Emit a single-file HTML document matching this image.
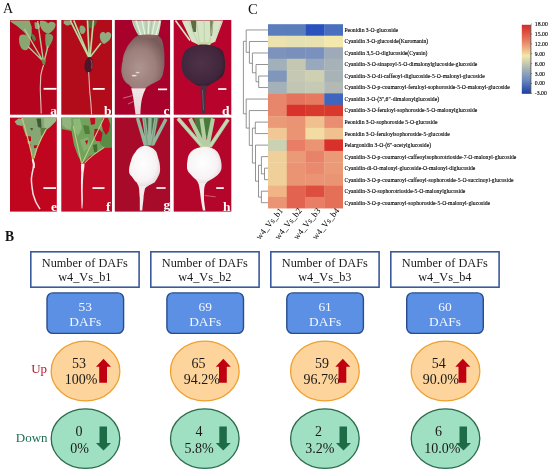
<!DOCTYPE html>
<html><head><meta charset="utf-8"><style>
*{margin:0;padding:0;box-sizing:border-box}
html,body{width:550px;height:472px;overflow:hidden;background:#fff}
body{position:relative;font-family:"Liberation Serif", serif;color:#111}
svg,.lbl{will-change:transform}
.lbl{position:absolute;font-size:13px;line-height:1}
</style></head><body>
<svg style="position:absolute;left:0;top:0" width="240" height="220" viewBox="0 0 240 220">
<defs>
<radialGradient id="gc" cx="0.42" cy="0.62" r="0.62"><stop offset="0" stop-color="#ae9490"/><stop offset="0.6" stop-color="#9c7e7a"/><stop offset="1" stop-color="#7a5c5c"/></radialGradient>
<radialGradient id="gd" cx="0.45" cy="0.45" r="0.6"><stop offset="0" stop-color="#4e3248"/><stop offset="0.8" stop-color="#40263c"/><stop offset="1" stop-color="#301828"/></radialGradient>
<radialGradient id="gw" cx="0.45" cy="0.45" r="0.6"><stop offset="0" stop-color="#ffffff"/><stop offset="0.7" stop-color="#f7f3f4"/><stop offset="1" stop-color="#e4d8dc"/></radialGradient>
<linearGradient id="gr" x1="0" y1="0" x2="0" y2="1"><stop offset="0" stop-color="#f0e6e8"/><stop offset="1" stop-color="#e8d6da"/></linearGradient>
</defs>
<!-- backgrounds -->
<rect x="10" y="20" width="46.8" height="94.7" fill="#b4041e"/>
<rect x="61.3" y="20" width="50.7" height="94.7" fill="#b20c1a"/>
<rect x="114.8" y="20" width="55.3" height="94.7" fill="#a8022c"/>
<rect x="173.7" y="20" width="57.6" height="94.7" fill="#b8042c"/>
<rect x="10" y="117.6" width="46.8" height="94" fill="#c0061e"/>
<rect x="61.3" y="117.6" width="50.7" height="94" fill="#c00a26"/>
<rect x="114.8" y="117.6" width="55.3" height="94" fill="#a80a2a"/>
<rect x="173.7" y="117.6" width="57.6" height="94" fill="#b4062a"/>

<!-- panel a -->
<g>
<path d="M10.5 20.5H29.5L31.7 27L31.7 35L30 40L24 32L17 26L10.5 21.8Z" fill="#8ba774"/>
<path d="M19.5 36C22 33.5 27 34 29.5 38C31 42 30 46 28 49C26 51 22.5 50.5 21 47.5C19 44.5 18.5 39.5 19.5 36Z" fill="#8aa670"/>
<path d="M31.7 33.4C34 34 35.8 36.5 36 39.5L34.5 41.7C32.5 40 31.3 37 31.7 33.4Z" fill="#5e7a48"/>
<path d="M34.4 22.4C37 21.5 40 23 40 26.5C39.5 29.5 36.5 30 35 28Z" fill="#90aa78"/>
<path d="M40 21C44 20.3 47 21.5 48 23.5C50 21 54 21 55.5 24C56 28 52 32 48 34C46 33 42 31 41 28C40 26 39.5 23 40 21Z" fill="#8ea874"/>
<path d="M45.5 34C49 33 53 34 53.2 37C53 41 50 45.5 47 49.5C45.5 46 44.8 40 45.5 34Z" fill="#7f9a66"/>
<path d="M24.5 29L43.5 62M37.7 21L43.5 62M28 46.5L42.5 60.5M48 46L44 62" stroke="#b4c892" stroke-width="1.4" fill="none"/>
<path d="M41.5 59L46 60L45 65L42.5 64Z" fill="#6a9048"/>
<path d="M43.6 64.8C42 70 40.5 74 40.7 77.8C40.5 83 40.2 87 40.3 89.7C40.5 97 41 105 41.2 113.5" stroke="#e6c0b8" stroke-width="1.1" fill="none"/>
</g>
<!-- panel b -->
<g>
<path d="M63.7 20.5H72L71 24.5L67 25.7L63.7 23.5Z" fill="#90aa80"/>
<path d="M80 26C82 24.5 85 26 85.7 29.5C85.5 32.5 83.5 34.6 81.5 34C79.5 32.5 79 28.5 80 26Z" fill="#8aa878"/>
<path d="M86.3 20.5H97C97 23 95 27 92 28.7L88 27Z" fill="#4e6e3c"/>
<path d="M99.9 35C100.5 32 103.5 31 105.5 33.5C107 31 110.5 31.5 111.2 34.5C111.5 39 108 42 104 44C101 42.5 99.5 38.5 99.9 35Z" fill="#90ac80"/>
<path d="M70.2 20.5L88.7 57.1M73.8 20.5L89 57.1M87.5 20.5L89.2 57.1M93.4 20.5L90 57M101 43L90.5 56.5" stroke="#8a9a6a" stroke-width="1.9" fill="none"/><path d="M70.2 20.5L88.7 57.1M73.8 20.5L89 57.1M87.5 20.5L89.2 57.1M93.4 20.5L90 57M101 43L90.5 56.5" stroke="#cad8a4" stroke-width="1.2" fill="none"/>
<path d="M88 57.5C85 60 84 65 84.5 68.5C85.5 72 88 73.5 90 72.5C92.5 70 93.5 64 92.5 60C91.5 58 90 57 88 57.5Z" fill="#4e1428"/>
<path d="M90.5 59.5C92 61 92.5 65 91.5 68.5" stroke="#a05a70" stroke-width="0.9" fill="none"/>
<path d="M88.7 72C89 78 89.4 84 89.6 89.7C90 95 90.8 100 91 105C91.3 109 91.5 112 91.6 114.6" stroke="#e2b4b4" stroke-width="1.1" fill="none"/>
</g>
<!-- panel c -->
<g>
<path d="M131.8 20.5H161.3C160.5 26 159.5 31 158.2 35.4H138.6C135.5 31 133 26 131.8 20.5Z" fill="#c2d8bc"/>
<path d="M136 20.5L141 35M142 20.5L145 35M149 20.5L148 35M155 20.5L152 35M160 20.5L156 35" stroke="#eef4ea" stroke-width="1.1" fill="none"/>
<path d="M133 20.5L139 35M146 20.5L146.5 35M152 20.5L150 35" stroke="#98b48e" stroke-width="0.6" fill="none"/>
<path d="M138 35.5C135 37 133.5 38.5 132.4 40.1C129.5 43 127.5 46 126.3 48.7C124 53 122.8 57 122.6 61C121.6 65 121.2 69 121.4 72.3C121.8 75 122.6 77.5 123.8 79.7C125 82 127 83.5 128.7 84.6C130 86 131 87.2 132.4 88.3L145.3 88.3C147 87 149 85.8 150.9 84.6C154.5 82.5 157.8 81.2 160 79.7C162 77 163 75 163.2 72.3C164.3 68 164.6 64 164.4 61C164.5 56 164.3 52 163.8 48.7C163.3 45 162.8 42.5 162 40.1C160.5 37.5 159.3 36.2 158 35.5Z" fill="url(#gc)"/>
<path d="M138 35.5Q148 33.5 158 35.5Q155 38 148 38Q141 38 138 35.5Z" fill="#8a6458"/>
<ellipse cx="134.2" cy="75.6" rx="2.6" ry="0.9" fill="#e8dce0"/>
<ellipse cx="137.6" cy="72.6" rx="2.1" ry="0.8" fill="#e0d2d6"/>
<path d="M131.2 88.3L146 88.3C144 92 142.5 96 141.6 100.5C140.8 105 140.5 110 140.4 114.6H135.5C135 110 134.2 105 133.7 100.5C133 96 132.2 92 131.2 88.3Z" fill="url(#gr)"/>
<path d="M123.2 98.1L132.4 95.6M128 104L133.5 101.5" stroke="#e8d4d8" stroke-width="0.5" fill="none"/>
</g>
<!-- panel d -->
<g>
<path d="M181.7 20.5H222L214.4 42L209 44.5H198L191.5 41.4Z" fill="#d6e4c6"/>
<path d="M190.5 20.5H196.4L196 32L193 32Z" fill="#5e6c44"/>
<path d="M210 20.5H213.4L212 36L210.5 36Z" fill="#7a8458"/>
<path d="M188.3 20.5L198 43M196.4 20.5L199.5 43M204 20.5L204.5 43M213.4 20.5L209.5 43" stroke="#b4c8a2" stroke-width="0.7" fill="none"/>
<path d="M175.5 20.5L190 40.5" stroke="#d8e6c8" stroke-width="1.6" fill="none"/>
<path d="M222.5 20.5L214.5 42" stroke="#d8e6c8" stroke-width="1.2" fill="none"/>
<path d="M197 42H211.5L209 47.9H199Z" fill="#ccd6a0"/>
<path d="M203.3 44.5C196 44.5 189 47 185 51C182.5 55 181.5 60 181.5 64C181.5 69 182.5 72.5 184.4 75.3C186 78 187.5 79.2 189.5 80.3C192 82.5 194 84 195.9 84.8C197.5 85.6 199 86 200.3 86L206.7 86C208 85.6 209 85.3 209.9 84.8C212.5 83.3 215 82 217.5 80.3C220 78.5 222 77 223.2 75.3C224.6 72 225.1 69 225.1 64.5C225.1 60 224.5 56 222.6 51C219 47 211 44.5 203.3 44.5Z" fill="url(#gd)"/>
<path d="M200.3 85.4L206.7 85.4C206.4 90 206.1 94 206 98.1C205.8 103 205.6 108 205.4 113.4H202.2C201.8 108 201.4 103 201 98.1C200.8 94 200.5 90 200.3 85.4Z" fill="#4a3040"/>
<path d="M202.5 90L203.5 110" stroke="#8a7080" stroke-width="0.6" fill="none"/>
</g>
<!-- panel e -->
<g>
<path d="M21 118H56.5L56 121L50 127L46 130L42 137L38 146L35.5 154L33.5 159L31.5 154L28.5 145L25.5 135L22.5 126L21 122Z" fill="#86a674"/>
<path d="M14.5 121.5L19 118.3L23 120L22.3 126L17 125Z" fill="#90ae80"/>
<path d="M44 118H56.5L56 121L50 127L46 130L44 126Z" fill="#9cba8a"/>
<path d="M36.5 118.5L41 118.5L41.5 128L38 127Z" fill="#3e5a34"/>
<path d="M40.4 128L46.5 128L44 134L41 136Z" fill="#5a7e48"/>
<path d="M25.2 136L31 136.5L31 141L27 141Z" fill="#c0061e"/>
<path d="M26.7 144L30.3 144L30.5 151.8L28.5 151Z" fill="#c0061e"/>
<path d="M33.9 145.3L38.2 145.3L37.5 148.2L34 148Z" fill="#c0061e"/>
<path d="M30 128L33 128L32 131Z" fill="#4a5a30"/>
<path d="M22.3 118.3L25 128L28.5 141L31 151L32.6 159.5M46.1 129.4L41.8 137.4L37 148L33.9 158.5" stroke="#c8c87c" stroke-width="1.2" fill="none"/>
<path d="M32.6 159C33.5 161 33.8 163 33.7 165.7C33 170 31.5 175 31.4 179.4C31.5 185 32.5 190 33.1 194.3C34.5 200 37 205 40 209.1" stroke="#f0e2e2" stroke-width="1.5" fill="none"/>
<path d="M32.6 159.5C33.6 162 34.2 165 33.8 168" stroke="#f6f0ee" stroke-width="2" fill="none"/>
</g>
<!-- panel f -->
<g>
<path d="M61.5 118H111.7V147.5L104.5 147.4L97 153L90 156L84 162L82 163L78 156L74 145L71.5 131L61.5 129Z" fill="#74a25c"/>
<path d="M62 118H71L71.5 124L70.8 129.3L66 128.5L62.3 125Z" fill="#92b47e"/>
<path d="M73 119L80 118.5L82 128L78 136L74 130Z" fill="#8cb878"/>
<path d="M80 140L88 137L90 147L84 152Z" fill="#86b070"/>
<path d="M83 125L89 126L90 134L85 134Z" fill="#4e7e3a"/>
<path d="M103 126L111.7 124V147.5L104.5 147.4L100 144Z" fill="#5a8c46"/>
<path d="M93 145L97 144L97.5 153L94 152Z" fill="#3e6e30"/>
<path d="M90 118H95.2L95 124L91 125Z" fill="#c00a26"/>
<path d="M102.8 118H108L110 123.5L109 131L106 135L103 130L101.5 124Z" fill="#c00a26"/>
<path d="M94.5 129L99 128.7L102.5 133L101 141.4L96 141L94 136Z" fill="#c00a26"/>
<path d="M85 141L88 140L87 145Z" fill="#b80a24"/>
<path d="M73.3 126L81.5 163.2M104 118L82.3 163M104.4 147.4C97 152 90 157 84.7 163" stroke="#bcd088" stroke-width="1.1" fill="none"/>
<path d="M81 163.5H84.5C84.5 167 84 170 83.5 173C83 180 82.5 188 82.8 196C83 201 82.7 205 82.3 208.5H81.6C81.4 205 81.3 200 81.2 196C81 188 80.8 180 81.2 173C81 170 80.9 167 81 163.5Z" fill="#f4f0f0"/>
</g>
<!-- panel g -->
<g>
<path d="M135.5 118H168L153.3 145.7H143.5Z" fill="#a80a2a"/>
<path d="M142 118H159L155 135L146 136Z" fill="#4a7040"/>
<path d="M137.5 118L145.5 145.5M144 118L147.5 145.5M150 118L149.5 145.5M156 118L151.5 145.5M166 119L152.5 145" stroke="#94b49c" stroke-width="3.4" fill="none"/>
<path d="M144 118L147.5 145.5M156 118L151.5 145.5" stroke="#6e9470" stroke-width="0.8" fill="none"/>
<path d="M145 145.7C140 146 137.5 149 135.5 151.9C133 155 131.5 158 131.2 160.5C129.8 164 129.3 167 129 170.3C128.8 173 129.8 175 131.8 176.4C133.5 179 135 181 136.7 182.6C137.5 184 138 185 138.6 186.3L147.8 186.3C149.5 185 151.8 184 154.6 182.6C156 180.5 157.3 178.5 158.2 176.4C159.5 174 160.2 172 160.1 169C160 165 159.6 162.5 158.9 160.5C158 157 157.3 154.5 156.4 151.9C154 148.5 150 146 145 145.7Z" fill="url(#gw)"/>
<path d="M138.6 186L147.8 186C145.5 187.5 144.8 188.5 144.7 190C144 193 143.6 195.5 143.5 198.6C143.2 202 142.6 206 142.3 210.5H139.8C139.8 206 139.8 202 139.8 198.6C139.5 195 139.3 192 139.2 190C139 188.5 138.8 187 138.6 186Z" fill="#f2eeee"/>
</g>
<!-- panel h -->
<g>
<path d="M176.8 118H229L211.1 146.8H202.2Z" fill="#b4062a"/>
<path d="M194 118H213L210 138H198Z" fill="#4a7a3a"/>
<path d="M178 118.5L202.5 146.5M190 118.5L204 146.5M201.5 118.5L205.5 146.5M213 118.5L207.5 146.5M228 119.5L210 146.5" stroke="#b4cea4" stroke-width="4" fill="none"/>
<path d="M178 118.5L202.5 146.5M228 119.5L210 146.5" stroke="#c8dcbc" stroke-width="1.5" fill="none"/>
<path d="M201 145.5H211L210 149H202Z" fill="#c8cca0"/>
<path d="M204.2 146.8C198.5 146.8 194 149 190.8 151.9C188.5 154.5 187.8 157 187.6 159.5C187 162.5 186.8 165.5 187 168.2C187.5 171 189 173 190.8 174.5C192.5 176.5 194 178 195.9 179.6C197 181 197.8 182.3 198.4 183.4H206C207 182 208.5 180.8 211.1 179.6C213.5 178 216 176.5 218.1 174.5C220 172.5 221.2 170.5 221.5 168.2C221.8 165 221.3 162 220.7 159.5C220 156.5 219 154 217.5 151.9C214.5 148.5 209.5 146.8 204.2 146.8Z" fill="url(#gw)"/>
<path d="M198.4 183L206 183C204.8 185 204.3 187.5 204.1 189.8C204 193 204 196.5 204 200C204.2 203.5 205 207 205.4 210.5H202.9C202.2 207 201.5 203.5 201 200C200.5 196 200.2 193 199.7 189.8C199.3 187.5 198.9 185 198.4 183Z" fill="#f2eeee"/>
<path d="M204.8 195.5L215.6 196.8" stroke="#e0b8c0" stroke-width="0.5" fill="none"/>
</g>
<!-- scale bars -->
<g fill="#fff">
<rect x="43.6" y="87.9" width="12.9" height="1.8"/>
<rect x="92.8" y="88" width="11.9" height="1.8"/>
<rect x="158" y="88.5" width="9.1" height="1.7"/>
<rect x="218.1" y="88.2" width="8.3" height="1.7"/>
<rect x="43.4" y="187.2" width="12.6" height="1.7"/>
<rect x="92.5" y="187.2" width="12" height="1.7"/>
<rect x="156.4" y="187.2" width="9.2" height="1.6"/>
<rect x="216.2" y="187.2" width="7.6" height="1.7"/>
</g>
<g fill="#fff" font-family="Liberation Serif" font-weight="bold" font-size="13.5" text-anchor="end">
<text x="57" y="114.6">a</text>
<text x="111.6" y="114.6">b</text>
<text x="169.6" y="114.5">c</text>
<text x="229.4" y="114.7">d</text>
<text x="57" y="211">e</text>
<text x="110.5" y="211.2">f</text>
<text x="170.3" y="209.2">g</text>
<text x="230.6" y="211.3">h</text>
</g>
</svg>

<div class="lbl" style="left:3.3px;top:2.4px;font-size:14px">A</div>
<div class="lbl" style="left:247.8px;top:2.2px;font-size:14.6px">C</div>
<div class="lbl" style="left:4.8px;top:230.4px;font-size:13.6px;font-weight:bold">B</div>
<svg style="position:absolute;left:0;top:0" width="550" height="472" font-family='"Liberation Serif", serif'>
<rect x="268" y="24.20" width="19.05" height="11.82" fill="#5a7dbc"/><rect x="286.75" y="24.20" width="19.05" height="11.82" fill="#5a7dbc"/><rect x="305.5" y="24.20" width="19.05" height="11.82" fill="#2a52be"/><rect x="324.25" y="24.20" width="18.75" height="11.82" fill="#4a6fbe"/><rect x="268" y="35.72" width="19.05" height="11.82" fill="#ebe2b0"/><rect x="286.75" y="35.72" width="19.05" height="11.82" fill="#e6e0b5"/><rect x="305.5" y="35.72" width="19.05" height="11.82" fill="#e8e2b2"/><rect x="324.25" y="35.72" width="18.75" height="11.82" fill="#f3e9ad"/><rect x="268" y="47.23" width="19.05" height="11.82" fill="#7d93bb"/><rect x="286.75" y="47.23" width="19.05" height="11.82" fill="#7990bd"/><rect x="305.5" y="47.23" width="19.05" height="11.82" fill="#7a90bd"/><rect x="324.25" y="47.23" width="18.75" height="11.82" fill="#9eaab8"/><rect x="268" y="58.75" width="19.05" height="11.82" fill="#a1b0b9"/><rect x="286.75" y="58.75" width="19.05" height="11.82" fill="#c4c8b3"/><rect x="305.5" y="58.75" width="19.05" height="11.82" fill="#98a9bd"/><rect x="324.25" y="58.75" width="18.75" height="11.82" fill="#a6b2b8"/><rect x="268" y="70.26" width="19.05" height="11.82" fill="#8096bb"/><rect x="286.75" y="70.26" width="19.05" height="11.82" fill="#c5c9b4"/><rect x="305.5" y="70.26" width="19.05" height="11.82" fill="#cfcfb1"/><rect x="324.25" y="70.26" width="18.75" height="11.82" fill="#a8b3b7"/><rect x="268" y="81.78" width="19.05" height="11.82" fill="#a4b1b8"/><rect x="286.75" y="81.78" width="19.05" height="11.82" fill="#c0c5b4"/><rect x="305.5" y="81.78" width="19.05" height="11.82" fill="#c6c9b3"/><rect x="324.25" y="81.78" width="18.75" height="11.82" fill="#b3bab6"/><rect x="268" y="93.30" width="19.05" height="11.82" fill="#e8866b"/><rect x="286.75" y="93.30" width="19.05" height="11.82" fill="#e4725c"/><rect x="305.5" y="93.30" width="19.05" height="11.82" fill="#e67a60"/><rect x="324.25" y="93.30" width="18.75" height="11.82" fill="#3e66bf"/><rect x="268" y="104.81" width="19.05" height="11.82" fill="#e8866b"/><rect x="286.75" y="104.81" width="19.05" height="11.82" fill="#d9322b"/><rect x="305.5" y="104.81" width="19.05" height="11.82" fill="#d93a2e"/><rect x="324.25" y="104.81" width="18.75" height="11.82" fill="#d9382d"/><rect x="268" y="116.33" width="19.05" height="11.82" fill="#eb9a77"/><rect x="286.75" y="116.33" width="19.05" height="11.82" fill="#eb9474"/><rect x="305.5" y="116.33" width="19.05" height="11.82" fill="#f0c08f"/><rect x="324.25" y="116.33" width="18.75" height="11.82" fill="#e98e70"/><rect x="268" y="127.84" width="19.05" height="11.82" fill="#f0c795"/><rect x="286.75" y="127.84" width="19.05" height="11.82" fill="#eb9474"/><rect x="305.5" y="127.84" width="19.05" height="11.82" fill="#f2dca4"/><rect x="324.25" y="127.84" width="18.75" height="11.82" fill="#f0c08f"/><rect x="268" y="139.36" width="19.05" height="11.82" fill="#cbd1b3"/><rect x="286.75" y="139.36" width="19.05" height="11.82" fill="#e87e66"/><rect x="305.5" y="139.36" width="19.05" height="11.82" fill="#eb9474"/><rect x="324.25" y="139.36" width="18.75" height="11.82" fill="#d9302b"/><rect x="268" y="150.88" width="19.05" height="11.82" fill="#f0d09a"/><rect x="286.75" y="150.88" width="19.05" height="11.82" fill="#eb9a77"/><rect x="305.5" y="150.88" width="19.05" height="11.82" fill="#e8836a"/><rect x="324.25" y="150.88" width="18.75" height="11.82" fill="#eb9a77"/><rect x="268" y="162.39" width="19.05" height="11.82" fill="#f0d09a"/><rect x="286.75" y="162.39" width="19.05" height="11.82" fill="#eb9474"/><rect x="305.5" y="162.39" width="19.05" height="11.82" fill="#e98a6e"/><rect x="324.25" y="162.39" width="18.75" height="11.82" fill="#eb9a77"/><rect x="268" y="173.91" width="19.05" height="11.82" fill="#f0d09a"/><rect x="286.75" y="173.91" width="19.05" height="11.82" fill="#eb9474"/><rect x="305.5" y="173.91" width="19.05" height="11.82" fill="#eb9474"/><rect x="324.25" y="173.91" width="18.75" height="11.82" fill="#eb9474"/><rect x="268" y="185.42" width="19.05" height="11.82" fill="#f0b485"/><rect x="286.75" y="185.42" width="19.05" height="11.82" fill="#e26450"/><rect x="305.5" y="185.42" width="19.05" height="11.82" fill="#de4e3e"/><rect x="324.25" y="185.42" width="18.75" height="11.82" fill="#e57058"/><rect x="268" y="196.94" width="19.05" height="11.52" fill="#eb9474"/><rect x="286.75" y="196.94" width="19.05" height="11.52" fill="#e26450"/><rect x="305.5" y="196.94" width="19.05" height="11.52" fill="#e87e66"/><rect x="324.25" y="196.94" width="18.75" height="11.52" fill="#e57058"/><text x="344.4" y="31.86" font-size="5.65" stroke="#000" stroke-width="0.12">Peonidin 3-O-glucoside</text><text x="344.4" y="43.37" font-size="5.65" stroke="#000" stroke-width="0.12">Cyanidin 3-O-glucoside(Kuromanin)</text><text x="344.4" y="54.89" font-size="5.65" stroke="#000" stroke-width="0.12">Cyanidin 3,5-O-diglucoside(Cyanin)</text><text x="344.4" y="66.41" font-size="5.65" stroke="#000" stroke-width="0.12">Cyanidin-3-O-sinapoyl-5-O-dimalonylglucoside-glucoside</text><text x="344.4" y="77.92" font-size="5.65" stroke="#000" stroke-width="0.12">Cyanidin-3-O-di-caffeoyl-diglucoside-5-O-malonyl-glucoside</text><text x="344.4" y="89.44" font-size="5.65" stroke="#000" stroke-width="0.12">Cyanidin-3-O-p-coumaroyl-feruloyl-sophoroside-5-O-malonyl-glucoside</text><text x="344.4" y="100.95" font-size="5.65" stroke="#000" stroke-width="0.12">Cyanidin 3-O-(3&#8243;,6&#8243;-dimalonylglucoside)</text><text x="344.4" y="112.47" font-size="5.65" stroke="#000" stroke-width="0.12">Cyanidin-3-O-feruloyl-sophoroside-5-O-malonylglucoside</text><text x="344.4" y="123.99" font-size="5.65" stroke="#000" stroke-width="0.12">Peonidin 3-O-sophoroside 5-O-glucoside</text><text x="344.4" y="135.50" font-size="5.65" stroke="#000" stroke-width="0.12">Peonidin 3-O-feruloylsophoroside-5-glucoside</text><text x="344.4" y="147.02" font-size="5.65" stroke="#000" stroke-width="0.12">Pelargonidin 3-O-(6&#8243;-acetylglucoside)</text><text x="344.4" y="158.53" font-size="5.65" stroke="#000" stroke-width="0.12">Cyanidin-3-O-p-coumaroyl-caffeoylsophorotrioside-7-O-malonyl-glucoside</text><text x="344.4" y="170.05" font-size="5.65" stroke="#000" stroke-width="0.12">Cyanidin-di-O-malonyl-glucoside-O-malonyl-diglucoside</text><text x="344.4" y="181.57" font-size="5.65" stroke="#000" stroke-width="0.12">Cyanidin-3-O-p-coumaroyl-caffeoyl-sophoroside-5-O-succinoyl-glucoside</text><text x="344.4" y="193.08" font-size="5.65" stroke="#000" stroke-width="0.12">Cyanidin-3-O-sophorotrioside-5-O-malonylglucoside</text><text x="344.4" y="204.60" font-size="5.65" stroke="#000" stroke-width="0.12">Cyanidin-3-O-p-coumaroyl-sophoroside-5-O-malonyl-glucoside</text>
<path d="M246.2 29.96H268 M246.2 29.96V52.30 M246.2 52.30H249.4 M249.4 41.47H268 M249.4 41.47V63.30 M249.4 63.30H252.4 M252.4 52.99H268 M252.4 52.99V72.80 M252.4 72.80H256 M256 64.51H268 M256 64.51V81.80 M256 81.80H258.7 M258.7 76.02H268 M258.7 87.54H268 M258.7 76.02V87.54 M243.4 41.30V113.80 M243.4 41.30H246.2 M243.4 113.80H246.2 M246.2 99.05H268 M246.2 99.05V128.10 M246.2 128.10H249.3 M249.3 110.57H268 M249.3 110.57V145.40 M249.3 145.40H252.4 M252.4 128.10V163.00 M252.4 128.10H255.3 M252.4 163.00H255.5 M255.3 122.09H268 M255.3 133.60H268 M255.3 122.09V133.60 M255.5 145.12H268 M255.5 145.12V181.20 M255.5 181.20H258.5 M258.5 165.30V197.10 M258.5 165.30H261.4 M258.5 197.10H261.4 M261.4 156.63H268 M261.4 156.63V173.90 M261.4 173.90H264.5 M264.5 168.15H268 M264.5 179.67H268 M264.5 168.15V179.67 M261.4 191.18H268 M261.4 202.70H268 M261.4 191.18V202.70" stroke="#707070" stroke-width="0.75" fill="none"/>
<defs><linearGradient id="cbg" x1="0" y1="0" x2="0" y2="1">
<stop offset="0" stop-color="#d42a2a"/><stop offset="0.18" stop-color="#e26a52"/>
<stop offset="0.33" stop-color="#eeaa80"/><stop offset="0.45" stop-color="#f2e8a8"/>
<stop offset="0.62" stop-color="#aeb8b6"/><stop offset="0.8" stop-color="#6a88c0"/>
<stop offset="1" stop-color="#1a3ca4"/></linearGradient></defs>
<rect x="521.8" y="24.8" width="9" height="69" fill="url(#cbg)"/>
<path d="M530.9 24.8V93.8" stroke="#333" stroke-width="0.7"/>
<text x="534.8" y="26.10" font-size="5.8" stroke="#000" stroke-width="0.12">18.00</text><path d="M530.9 24.10h1.2" stroke="#444" stroke-width="0.6"/><text x="534.8" y="35.99" font-size="5.8" stroke="#000" stroke-width="0.12">15.00</text><path d="M530.9 33.99h1.2" stroke="#444" stroke-width="0.6"/><text x="534.8" y="45.88" font-size="5.8" stroke="#000" stroke-width="0.12">12.00</text><path d="M530.9 43.88h1.2" stroke="#444" stroke-width="0.6"/><text x="534.8" y="55.77" font-size="5.8" stroke="#000" stroke-width="0.12">9.00</text><path d="M530.9 53.77h1.2" stroke="#444" stroke-width="0.6"/><text x="534.8" y="65.66" font-size="5.8" stroke="#000" stroke-width="0.12">6.00</text><path d="M530.9 63.66h1.2" stroke="#444" stroke-width="0.6"/><text x="534.8" y="75.55" font-size="5.8" stroke="#000" stroke-width="0.12">3.00</text><path d="M530.9 73.55h1.2" stroke="#444" stroke-width="0.6"/><text x="534.8" y="85.44" font-size="5.8" stroke="#000" stroke-width="0.12">0.00</text><path d="M530.9 83.44h1.2" stroke="#444" stroke-width="0.6"/><text x="534.8" y="95.33" font-size="5.8" stroke="#000" stroke-width="0.12">-3.00</text><path d="M530.9 93.33h1.2" stroke="#444" stroke-width="0.6"/>
<text transform="translate(283.57,210.9) rotate(-51)" text-anchor="end" font-size="8.7">w4_Vs_b1</text><text transform="translate(302.32,210.9) rotate(-51)" text-anchor="end" font-size="8.7">w4_Vs_b2</text><text transform="translate(321.07,210.9) rotate(-51)" text-anchor="end" font-size="8.7">w4_Vs_b3</text><text transform="translate(339.82,210.9) rotate(-51)" text-anchor="end" font-size="8.7">w4_Vs_b4</text>
</svg>
<svg style="position:absolute;left:0;top:0" width="550" height="472" font-family='"Liberation Serif", serif'>
<rect x="30.8" y="251.8" width="108.3" height="35.4" fill="#fff" stroke="#3a5a9c" stroke-width="1.6"/><text x="84.8" y="266.9" text-anchor="middle" font-size="12.3" fill="#1a1a1a">Number of DAFs</text><text x="84.8" y="281.4" text-anchor="middle" font-size="12.3" fill="#1a1a1a">w4_Vs_b1</text><rect x="47.0" y="292.9" width="76.6" height="40.5" rx="5.8" fill="#5c90e5" stroke="#274d8e" stroke-width="1.4"/><text x="85.3" y="310.6" text-anchor="middle" font-size="13.4" fill="#f4f8ff">53</text><text x="85.3" y="326.4" text-anchor="middle" font-size="13.4" fill="#f4f8ff">DAFs</text><ellipse cx="85.5" cy="371" rx="34.3" ry="29.9" fill="#fcd49c" stroke="#f0a030" stroke-width="1.3"/><ellipse cx="85.5" cy="438.6" rx="34.3" ry="29.8" fill="#a0e0c2" stroke="#2b6b4c" stroke-width="1.3"/><text x="79.0" y="368.4" text-anchor="middle" font-size="14" fill="#1a1a1a">53</text><text x="81.2" y="383.6" text-anchor="middle" font-size="14" fill="#1a1a1a">100%</text><text x="79.0" y="435.7" text-anchor="middle" font-size="14" fill="#1a1a1a">0</text><text x="79.5" y="452.7" text-anchor="middle" font-size="14" fill="#1a1a1a">0%</text><path d="M96.0 366.8L103.5 358.8L111.0 366.8H107.0V382.8H99.2V366.8Z" fill="#c00010"/><path d="M99.5 426.5H107.0V443H111.0L103.5 450.6L96.0 443H99.5Z" fill="#1d6b47"/><rect x="150.8" y="251.8" width="108.3" height="35.4" fill="#fff" stroke="#3a5a9c" stroke-width="1.6"/><text x="204.8" y="266.9" text-anchor="middle" font-size="12.3" fill="#1a1a1a">Number of DAFs</text><text x="204.8" y="281.4" text-anchor="middle" font-size="12.3" fill="#1a1a1a">w4_Vs_b2</text><rect x="166.9" y="292.9" width="76.6" height="40.5" rx="5.8" fill="#5c90e5" stroke="#274d8e" stroke-width="1.4"/><text x="205.2" y="310.6" text-anchor="middle" font-size="13.4" fill="#f4f8ff">69</text><text x="205.2" y="326.4" text-anchor="middle" font-size="13.4" fill="#f4f8ff">DAFs</text><ellipse cx="204.8" cy="371" rx="34.3" ry="29.9" fill="#fcd49c" stroke="#f0a030" stroke-width="1.3"/><ellipse cx="204.8" cy="438.6" rx="34.3" ry="29.8" fill="#a0e0c2" stroke="#2b6b4c" stroke-width="1.3"/><text x="198.5" y="368.4" text-anchor="middle" font-size="14" fill="#1a1a1a">65</text><text x="201.8" y="383.6" text-anchor="middle" font-size="14" fill="#1a1a1a">94.2%</text><text x="199.0" y="435.7" text-anchor="middle" font-size="14" fill="#1a1a1a">4</text><text x="199.2" y="452.7" text-anchor="middle" font-size="14" fill="#1a1a1a">5.8%</text><path d="M215.8 366.8L223.3 358.8L230.8 366.8H226.8V382.8H219.0V366.8Z" fill="#c00010"/><path d="M219.3 426.5H226.8V443H230.8L223.3 450.6L215.8 443H219.3Z" fill="#1d6b47"/><rect x="270.8" y="251.8" width="108.3" height="35.4" fill="#fff" stroke="#3a5a9c" stroke-width="1.6"/><text x="324.8" y="266.9" text-anchor="middle" font-size="12.3" fill="#1a1a1a">Number of DAFs</text><text x="324.8" y="281.4" text-anchor="middle" font-size="12.3" fill="#1a1a1a">w4_Vs_b3</text><rect x="286.8" y="292.9" width="76.6" height="40.5" rx="5.8" fill="#5c90e5" stroke="#274d8e" stroke-width="1.4"/><text x="325.1" y="310.6" text-anchor="middle" font-size="13.4" fill="#f4f8ff">61</text><text x="325.1" y="326.4" text-anchor="middle" font-size="13.4" fill="#f4f8ff">DAFs</text><ellipse cx="324.9" cy="371" rx="34.3" ry="29.9" fill="#fcd49c" stroke="#f0a030" stroke-width="1.3"/><ellipse cx="324.9" cy="438.6" rx="34.3" ry="29.8" fill="#a0e0c2" stroke="#2b6b4c" stroke-width="1.3"/><text x="322.0" y="368.4" text-anchor="middle" font-size="14" fill="#1a1a1a">59</text><text x="321.6" y="383.6" text-anchor="middle" font-size="14" fill="#1a1a1a">96.7%</text><text x="318.5" y="435.7" text-anchor="middle" font-size="14" fill="#1a1a1a">2</text><text x="319.9" y="452.7" text-anchor="middle" font-size="14" fill="#1a1a1a">3.2%</text><path d="M335.3 366.8L342.8 358.8L350.3 366.8H346.3V382.8H338.5V366.8Z" fill="#c00010"/><path d="M339.5 426.5H347.0V443H351.0L343.5 450.6L336.0 443H339.5Z" fill="#1d6b47"/><rect x="390.8" y="251.8" width="108.3" height="35.4" fill="#fff" stroke="#3a5a9c" stroke-width="1.6"/><text x="444.8" y="266.9" text-anchor="middle" font-size="12.3" fill="#1a1a1a">Number of DAFs</text><text x="444.8" y="281.4" text-anchor="middle" font-size="12.3" fill="#1a1a1a">w4_Vs_b4</text><rect x="406.7" y="292.9" width="76.6" height="40.5" rx="5.8" fill="#5c90e5" stroke="#274d8e" stroke-width="1.4"/><text x="445.0" y="310.6" text-anchor="middle" font-size="13.4" fill="#f4f8ff">60</text><text x="445.0" y="326.4" text-anchor="middle" font-size="13.4" fill="#f4f8ff">DAFs</text><ellipse cx="445.5" cy="371" rx="34.3" ry="29.9" fill="#fcd49c" stroke="#f0a030" stroke-width="1.3"/><ellipse cx="445.5" cy="438.6" rx="34.3" ry="29.8" fill="#a0e0c2" stroke="#2b6b4c" stroke-width="1.3"/><text x="438.7" y="368.4" text-anchor="middle" font-size="14" fill="#1a1a1a">54</text><text x="440.8" y="383.6" text-anchor="middle" font-size="14" fill="#1a1a1a">90.0%</text><text x="438.4" y="435.7" text-anchor="middle" font-size="14" fill="#1a1a1a">6</text><text x="442.3" y="452.7" text-anchor="middle" font-size="14" fill="#1a1a1a">10.0%</text><path d="M455.3 366.8L462.8 358.8L470.3 366.8H466.3V382.8H458.5V366.8Z" fill="#c00010"/><path d="M459.5 426.5H467.0V443H471.0L463.5 450.6L456.0 443H459.5Z" fill="#1d6b47"/><text x="31.2" y="373.4" font-size="13" fill="#b81a2a">Up</text><text x="15.8" y="441.6" font-size="13" fill="#1f6e50">Down</text>
</svg>
</body></html>
